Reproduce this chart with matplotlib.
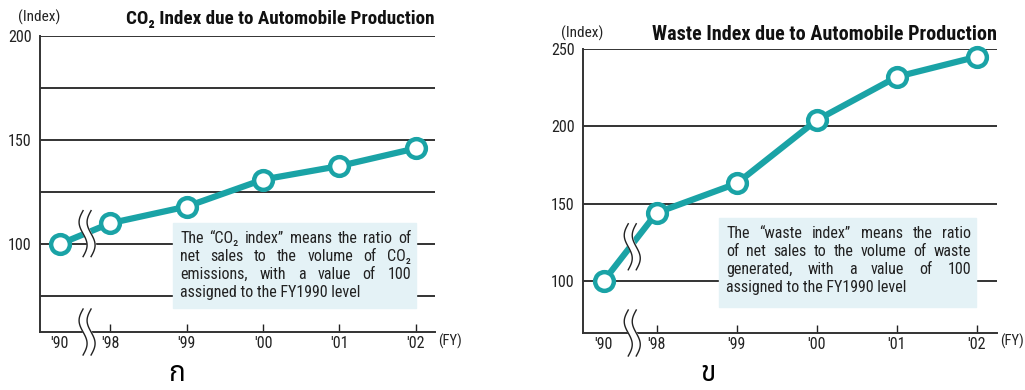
import numpy as np
import matplotlib
matplotlib.use("Agg")
import matplotlib.pyplot as plt
from matplotlib.transforms import IdentityTransform

# fiscal years on the x axis
years = ["'90", "'98", "'99", "'00", "'01", "'02"]

# CO2 index (FY1990 = 100)
co2_index = [100, 110, 118, 131, 137.5, 146]
# waste index (FY1990 = 100)
waste_index = [100, 144, 163, 204, 232, 245]

co2_ticks = [100, 150, 200]
co2_grid = [75, 100, 125, 150, 175, 200]
waste_ticks = [100, 150, 200, 250]
waste_grid = [100, 150, 200, 250]

co2_note = ["The \u201cCO\u2082 index\u201d means the ratio of",
            "net sales to the volume of CO\u2082",
            "emissions, with a value of 100",
            "assigned to the FY1990 level"]
waste_note = ["The \u201cwaste index\u201d means the ratio",
              "of net sales to the volume of waste",
              "generated, with a value of 100",
              "assigned to the FY1990 level"]

TEAL = "#1aa3a6"
GRID = "#333333"
BOX = "#e4f2f6"
FONT = ["Roboto Condensed", "DejaVu Sans"]

plt.rcParams["font.family"] = FONT

W, H = 1025, 390
fig = plt.figure(figsize=(W / 100, H / 100), dpi=100)
renderer = fig.canvas.get_renderer()

# gap between '90 and '98 is shorter than a regular year step
xpos = [-0.66, 0, 1, 2, 3, 4]


def px_axes(left, top, right, bottom):
    return fig.add_axes([left / W, 1 - bottom / H, (right - left) / W, (bottom - top) / H])


def justified(lines, x0, x1, y0, pitch, **kw):
    # lay out words so every line but the last fills the width
    for i, line in enumerate(lines):
        y = 1 - (y0 + i * pitch) / H
        words = line.split(" ")
        if i == len(lines) - 1 or len(words) == 1:
            fig.text(x0 / W, y, line, ha="left", va="center", **kw)
            continue
        arts = [fig.text(0, y, w, ha="left", va="center", **kw) for w in words]
        widths = [a.get_window_extent(renderer).width for a in arts]
        gap = (x1 - x0 - sum(widths)) / (len(words) - 1)
        x = x0
        for a, wd in zip(arts, widths):
            a.set_x(x / W)
            x += wd + gap


def draw_break(ax, x, y, height):
    # pair of wavy strokes marking the axis break, white in between
    cx, cy = ax.transData.transform((x, y))
    t = np.linspace(0, 1, 60)
    yy = cy + height / 2 - t * height
    xx = cx - 4 * np.sin(2 * np.pi * t) + 2
    gap = 4
    ax.fill_betweenx(yy, xx - gap, xx + gap, color="white", transform=IdentityTransform(),
                     zorder=6, clip_on=False)
    for dx in (-gap, gap):
        ax.plot(xx + dx, yy, color="#222222", lw=1.0, transform=IdentityTransform(),
                zorder=7, clip_on=False)


def draw_chart(ax, values, ylim, ticks, grid, title, title_size, note, note_box,
               title_y, idx_y, fy_x):
    ax.set_xlim(-0.92, 4.25)
    ax.set_ylim(*ylim)
    for g in grid:
        ax.axhline(g, color=GRID, lw=1.4, zorder=1)
    for s in ("top", "right"):
        ax.spines[s].set_visible(False)
    for s in ("left", "bottom"):
        ax.spines[s].set_color(GRID)
        ax.spines[s].set_linewidth(1.4)
    ax.set_yticks(ticks)
    ax.set_yticklabels([str(t) for t in ticks])
    ax.set_xticks(xpos)
    ax.set_xticklabels(years)
    ax.tick_params(axis="y", length=0, pad=6, labelsize=11.5, colors="#222222")
    ax.tick_params(axis="x", length=6, direction="in", width=1, pad=3, labelsize=11.5,
                   colors="#222222")
    ax.xaxis.get_major_ticks()[0].tick1line.set_visible(False)

    ax.plot(xpos, values, color=TEAL, lw=4.5, zorder=4, solid_capstyle="round",
            marker="o", ms=13.5, mfc="white", mec=TEAL, mew=3.2, clip_on=False)

    # explanatory note in a light blue box
    bx0, by0, bx1, by1 = note_box
    fig.patches.append(plt.Rectangle((bx0 / W, 1 - by1 / H), (bx1 - bx0) / W, (by1 - by0) / H,
                                     transform=fig.transFigure, color=BOX, zorder=3))
    justified(note, bx0 + 7, bx1 - 5, by0 + 15, 18.3, fontsize=11.5, color="#222222",
              zorder=4)

    # axis break marks between FY1990 and FY1998
    xb = (xpos[0] + xpos[1]) / 2
    yb = (values[0] + values[1]) / 2
    draw_break(ax, xb, yb, 46)
    draw_break(ax, xb, ylim[0], 46)

    bb = ax.get_position()
    fig.text(bb.x1, 1 - title_y / H, title, ha="right", va="center", fontsize=title_size,
             fontweight="bold", color="#111111")
    fig.text(bb.x0 - 22 / W, 1 - idx_y / H, "(Index)", ha="left", va="center", fontsize=11,
             color="#222222")
    fig.text(fy_x / W, 1 - 341 / H, "(FY)", ha="left", va="center",
             fontsize=10.5, color="#222222")


ax1 = px_axes(40, 36, 435, 332)
draw_chart(ax1, co2_index, (57.7, 200), co2_ticks, co2_grid,
           "CO\u2082 Index due to Automobile Production", 13.8, co2_note,
           (173, 223, 416, 308), 19, 17, 438)

ax2 = px_axes(583, 49, 997, 333)
draw_chart(ax2, waste_index, (66.2, 250), waste_ticks, waste_grid,
           "Waste Index due to Automobile Production", 14.5, waste_note,
           (719, 218, 976, 307), 35, 33, 1000)

# panel letters under each chart
thai = ["Noto Sans Thai", "DejaVu Sans"]
fig.text(177 / W, 1 - 374 / H, "\u0e01", ha="center", va="center", fontsize=20, family=thai)
fig.text(708 / W, 1 - 374 / H, "\u0e02", ha="center", va="center", fontsize=20, family=thai)

fig.savefig("out.png", dpi=100)
